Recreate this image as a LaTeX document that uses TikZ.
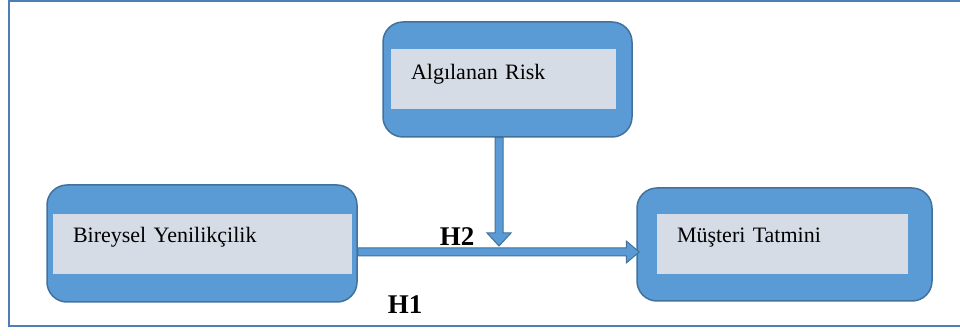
\documentclass[tikz,border=0pt]{standalone}
\usepackage{fontspec}
\setmainfont{Liberation Serif}
\usetikzlibrary{calc}
\definecolor{kutumavi}{HTML}{5B9BD5}
\definecolor{kenarmavi}{HTML}{41719C}
\definecolor{icgri}{HTML}{D6DCE5}
\definecolor{cercevemavi}{HTML}{4F7DB5}
\begin{document}
\begin{tikzpicture}[x=1pt,y=-1pt,
  dis/.style={draw=kenarmavi, line width=1.5pt, fill=kutumavi, rounded corners=20pt, inner sep=0pt},
  ic/.style={fill=icgri, inner xsep=20pt, inner ysep=0pt, minimum height=60pt, align=left,
    text height=14pt, text depth=16pt, font=\fontsize{22}{26}\selectfont},
  ok/.style={draw=kenarmavi, line width=1pt, fill=kutumavi, line join=miter},
  hetiket/.style={font=\fontsize{27}{30}\selectfont\bfseries, inner sep=0pt}]
\useasboundingbox (0,0) rectangle (960,336);
\draw[cercevemavi, line width=2pt] (962,1) -- (9,1) -- (9,326) -- (962,326);

\node[dis, minimum width=249pt, minimum height=115pt] (risk) at (507.5,79.5) {};
\node[dis, minimum width=310pt, minimum height=117pt] (bir) at (202,243.5) {};
\node[dis, minimum width=295pt, minimum height=113pt] (tat) at (784.5,244.5) {};

\node[ic, text width=185pt, text depth=12pt] (riskic) at (503.5,79) {Algılanan Risk};
\node[ic, text width=259pt] (biric) at (202.5,244) {Bireysel Yenilikçilik};
\node[ic, text width=211pt] (tatic) at (782.5,244) {Müşteri Tatmini};

\coordinate (h1s) at ([yshift=-8.5pt]bir.east);
\coordinate (h1e) at (tat.west |- h1s);
\coordinate (h2s) at ([xshift=-8.5pt]risk.south);
\coordinate (h2e) at (h2s |- h1s);

\filldraw[ok] ($(h1s)+(0,-4)$) -- ($(h1e)+(-10,-4)$) -- ($(h1e)+(-10,-11)$) -- ($(h1e)+(3,0)$)
  -- ($(h1e)+(-10,11)$) -- ($(h1e)+(-10,4)$) -- ($(h1s)+(0,4)$) -- cycle;
\filldraw[ok] ($(h2s)+(-4,0)$) -- ($(h2e)+(-4,-19)$) -- ($(h2e)+(-12,-19)$) -- ($(h2e)+(0,-6)$)
  -- ($(h2e)+(12,-19)$) -- ($(h2e)+(4,-19)$) -- ($(h2s)+(4,0)$) -- cycle;

\node[hetiket] (h2) at (457,237) {H2};
\node[hetiket] (h1) at (405,305) {H1};
\end{tikzpicture}
\end{document}
